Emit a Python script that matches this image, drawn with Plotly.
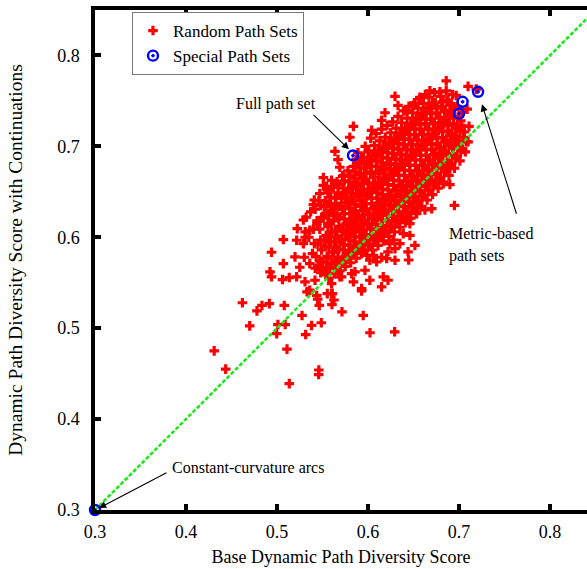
import plotly.graph_objects as go

# Random path sets: dense core of the cloud, listed column by column (x, y)
core_sets = [
    (0.530, 0.578), (0.531, 0.606), (0.529, 0.619),
    (0.536, 0.571), (0.535, 0.600), (0.537, 0.628),
    (0.542, 0.566), (0.543, 0.579), (0.541, 0.593), (0.544, 0.618), (0.542, 0.631), (0.541, 0.641),
    (0.548, 0.561), (0.547, 0.574), (0.549, 0.586), (0.548, 0.597), (0.547, 0.609), (0.549, 0.622), (0.548, 0.635), (0.547, 0.648),
    (0.554, 0.567), (0.555, 0.579), (0.553, 0.590), (0.554, 0.602), (0.556, 0.615), (0.554, 0.627), (0.553, 0.640), (0.555, 0.652),
    (0.560, 0.571), (0.561, 0.583), (0.559, 0.595), (0.560, 0.606), (0.562, 0.618), (0.560, 0.630), (0.559, 0.644), (0.561, 0.655),
    (0.566, 0.566), (0.567, 0.578), (0.565, 0.589), (0.566, 0.601), (0.568, 0.612), (0.566, 0.624), (0.565, 0.637), (0.567, 0.649), (0.566, 0.661),
    (0.572, 0.574), (0.573, 0.586), (0.571, 0.597), (0.572, 0.608), (0.574, 0.620), (0.572, 0.631), (0.571, 0.643), (0.573, 0.654), (0.572, 0.667),
    (0.578, 0.579), (0.579, 0.591), (0.577, 0.603), (0.578, 0.614), (0.580, 0.626), (0.578, 0.638), (0.577, 0.649), (0.579, 0.661), (0.578, 0.673),
    (0.584, 0.583), (0.585, 0.595), (0.583, 0.606), (0.584, 0.618), (0.586, 0.629), (0.584, 0.641), (0.583, 0.653), (0.585, 0.665), (0.584, 0.678),
    (0.590, 0.588), (0.591, 0.600), (0.589, 0.611), (0.590, 0.623), (0.592, 0.634), (0.590, 0.646), (0.589, 0.657), (0.591, 0.669), (0.590, 0.681), (0.589, 0.693),
    (0.596, 0.586), (0.597, 0.597), (0.595, 0.608), (0.596, 0.619), (0.598, 0.631), (0.596, 0.642), (0.595, 0.653), (0.597, 0.664), (0.596, 0.676), (0.595, 0.688), (0.597, 0.700),
    (0.602, 0.592), (0.603, 0.603), (0.601, 0.615), (0.602, 0.626), (0.604, 0.637), (0.602, 0.649), (0.601, 0.660), (0.603, 0.672), (0.602, 0.684), (0.601, 0.695), (0.603, 0.709),
    (0.608, 0.597), (0.609, 0.609), (0.607, 0.620), (0.608, 0.632), (0.610, 0.643), (0.608, 0.655), (0.607, 0.666), (0.609, 0.678), (0.608, 0.690), (0.607, 0.701), (0.609, 0.714),
    (0.614, 0.601), (0.615, 0.613), (0.613, 0.624), (0.614, 0.636), (0.616, 0.647), (0.614, 0.659), (0.613, 0.670), (0.615, 0.682), (0.614, 0.694), (0.613, 0.706), (0.615, 0.719),
    (0.620, 0.606), (0.621, 0.618), (0.619, 0.629), (0.620, 0.641), (0.622, 0.652), (0.620, 0.663), (0.619, 0.675), (0.621, 0.687), (0.620, 0.698), (0.619, 0.710), (0.621, 0.723),
    (0.626, 0.612), (0.627, 0.623), (0.625, 0.635), (0.626, 0.646), (0.628, 0.657), (0.626, 0.669), (0.625, 0.680), (0.627, 0.692), (0.626, 0.703), (0.625, 0.715), (0.627, 0.727),
    (0.632, 0.617), (0.633, 0.628), (0.631, 0.640), (0.632, 0.651), (0.634, 0.662), (0.632, 0.674), (0.631, 0.686), (0.633, 0.697), (0.632, 0.708), (0.631, 0.720), (0.633, 0.733),
    (0.638, 0.622), (0.639, 0.634), (0.637, 0.645), (0.638, 0.656), (0.640, 0.668), (0.638, 0.679), (0.637, 0.691), (0.639, 0.702), (0.638, 0.714), (0.637, 0.726), (0.639, 0.739),
    (0.644, 0.627), (0.645, 0.639), (0.643, 0.650), (0.644, 0.662), (0.646, 0.673), (0.644, 0.685), (0.643, 0.696), (0.645, 0.708), (0.644, 0.719), (0.643, 0.731), (0.645, 0.744),
    (0.650, 0.633), (0.651, 0.645), (0.649, 0.656), (0.650, 0.667), (0.652, 0.679), (0.650, 0.690), (0.649, 0.702), (0.651, 0.713), (0.650, 0.725), (0.649, 0.737), (0.651, 0.748),
    (0.656, 0.640), (0.657, 0.651), (0.655, 0.662), (0.656, 0.673), (0.658, 0.685), (0.656, 0.696), (0.655, 0.707), (0.657, 0.719), (0.656, 0.730), (0.655, 0.742), (0.657, 0.752),
    (0.662, 0.646), (0.663, 0.657), (0.661, 0.668), (0.662, 0.679), (0.664, 0.690), (0.662, 0.702), (0.661, 0.713), (0.663, 0.725), (0.662, 0.736), (0.661, 0.747), (0.663, 0.757),
    (0.668, 0.652), (0.669, 0.663), (0.667, 0.674), (0.668, 0.685), (0.670, 0.697), (0.668, 0.708), (0.667, 0.719), (0.669, 0.730), (0.668, 0.742), (0.667, 0.754),
    (0.674, 0.659), (0.675, 0.670), (0.673, 0.681), (0.674, 0.692), (0.676, 0.703), (0.674, 0.714), (0.673, 0.726), (0.675, 0.737), (0.674, 0.748), (0.673, 0.759),
    (0.680, 0.666), (0.681, 0.677), (0.679, 0.688), (0.680, 0.699), (0.682, 0.710), (0.680, 0.721), (0.679, 0.732), (0.681, 0.744), (0.680, 0.755),
    (0.686, 0.673), (0.687, 0.684), (0.685, 0.695), (0.686, 0.706), (0.688, 0.717), (0.686, 0.728), (0.685, 0.740), (0.687, 0.751), (0.686, 0.761),
    (0.692, 0.681), (0.693, 0.692), (0.691, 0.703), (0.692, 0.714), (0.694, 0.725), (0.692, 0.736), (0.691, 0.747), (0.693, 0.757),
    (0.698, 0.689), (0.699, 0.700), (0.697, 0.711), (0.698, 0.722), (0.700, 0.733), (0.698, 0.744),
    (0.704, 0.697), (0.705, 0.710), (0.703, 0.723), (0.704, 0.738),
    (0.710, 0.705), (0.711, 0.722), (0.709, 0.741),
]

# Random path sets between the core columns
core_between = [
    (0.539, 0.582), (0.540, 0.609),
    (0.545, 0.568), (0.545, 0.592), (0.544, 0.615), (0.546, 0.640),
    (0.551, 0.562), (0.550, 0.573), (0.552, 0.596), (0.551, 0.621), (0.552, 0.634), (0.551, 0.657),
    (0.557, 0.555), (0.558, 0.566), (0.556, 0.577), (0.557, 0.589), (0.558, 0.600), (0.556, 0.612), (0.557, 0.624), (0.558, 0.637), (0.556, 0.649),
    (0.563, 0.560), (0.564, 0.572), (0.562, 0.584), (0.563, 0.595), (0.564, 0.607), (0.562, 0.619), (0.563, 0.631), (0.564, 0.643), (0.562, 0.655),
    (0.569, 0.563), (0.570, 0.575), (0.568, 0.587), (0.569, 0.598), (0.570, 0.610), (0.568, 0.622), (0.569, 0.634), (0.570, 0.646), (0.568, 0.658),
    (0.575, 0.568), (0.576, 0.580), (0.574, 0.592), (0.575, 0.603), (0.576, 0.615), (0.574, 0.626), (0.575, 0.638), (0.576, 0.650), (0.574, 0.662),
    (0.581, 0.572), (0.582, 0.585), (0.580, 0.597), (0.581, 0.608), (0.582, 0.620), (0.580, 0.632), (0.581, 0.644), (0.582, 0.656), (0.580, 0.668),
    (0.587, 0.577), (0.588, 0.589), (0.586, 0.601), (0.587, 0.613), (0.588, 0.624), (0.586, 0.636), (0.587, 0.648), (0.588, 0.660), (0.586, 0.672), (0.587, 0.686),
    (0.593, 0.582), (0.594, 0.594), (0.592, 0.606), (0.593, 0.617), (0.594, 0.629), (0.592, 0.640), (0.593, 0.652), (0.594, 0.664), (0.592, 0.676), (0.593, 0.688),
    (0.599, 0.580), (0.600, 0.592), (0.598, 0.603), (0.599, 0.614), (0.600, 0.625), (0.598, 0.637), (0.599, 0.648), (0.600, 0.659), (0.598, 0.670), (0.599, 0.682), (0.600, 0.694),
    (0.605, 0.586), (0.606, 0.598), (0.604, 0.609), (0.605, 0.621), (0.606, 0.632), (0.604, 0.643), (0.605, 0.655), (0.606, 0.666), (0.604, 0.678), (0.605, 0.690),
    (0.611, 0.591), (0.612, 0.603), (0.610, 0.614), (0.611, 0.626), (0.612, 0.638), (0.610, 0.649), (0.611, 0.661), (0.612, 0.672), (0.610, 0.684), (0.611, 0.696),
    (0.617, 0.596), (0.618, 0.607), (0.616, 0.619), (0.617, 0.630), (0.618, 0.642), (0.616, 0.653), (0.617, 0.665), (0.618, 0.676), (0.616, 0.688), (0.617, 0.700),
    (0.623, 0.601), (0.624, 0.612), (0.622, 0.624), (0.623, 0.635), (0.624, 0.646), (0.622, 0.658), (0.623, 0.669), (0.624, 0.681), (0.622, 0.693), (0.623, 0.704),
    (0.629, 0.606), (0.630, 0.618), (0.628, 0.629), (0.629, 0.640), (0.630, 0.652), (0.628, 0.663), (0.629, 0.675), (0.630, 0.686), (0.628, 0.698), (0.629, 0.709),
    (0.635, 0.611), (0.636, 0.623), (0.634, 0.634), (0.635, 0.646), (0.636, 0.657), (0.634, 0.668), (0.635, 0.680), (0.636, 0.691), (0.634, 0.703), (0.635, 0.714),
    (0.641, 0.616), (0.642, 0.628), (0.640, 0.639), (0.641, 0.651), (0.642, 0.662), (0.640, 0.674), (0.641, 0.685), (0.642, 0.697), (0.640, 0.708), (0.641, 0.720),
    (0.647, 0.621), (0.648, 0.633), (0.646, 0.644), (0.647, 0.656), (0.648, 0.667), (0.646, 0.679), (0.647, 0.690), (0.648, 0.702), (0.646, 0.713), (0.647, 0.725),
    (0.653, 0.627), (0.654, 0.639), (0.652, 0.650), (0.653, 0.662), (0.654, 0.673), (0.652, 0.685), (0.653, 0.696), (0.654, 0.707), (0.652, 0.719), (0.653, 0.731),
    (0.659, 0.634), (0.660, 0.645), (0.658, 0.656), (0.659, 0.668), (0.660, 0.679), (0.658, 0.690), (0.659, 0.702), (0.660, 0.713), (0.658, 0.724), (0.659, 0.736),
    (0.665, 0.641), (0.666, 0.652), (0.664, 0.663), (0.665, 0.674), (0.666, 0.685), (0.664, 0.696), (0.665, 0.708), (0.666, 0.719), (0.664, 0.730), (0.665, 0.742),
    (0.671, 0.647), (0.672, 0.658), (0.670, 0.669), (0.671, 0.680), (0.672, 0.691), (0.670, 0.702), (0.671, 0.713), (0.672, 0.725), (0.670, 0.736), (0.671, 0.748),
    (0.677, 0.654), (0.678, 0.665), (0.676, 0.676), (0.677, 0.687), (0.678, 0.698), (0.676, 0.709), (0.677, 0.720), (0.678, 0.731), (0.676, 0.742),
    (0.683, 0.661), (0.684, 0.672), (0.682, 0.683), (0.683, 0.694), (0.684, 0.705), (0.682, 0.716), (0.683, 0.727), (0.684, 0.738), (0.682, 0.749),
    (0.689, 0.668), (0.690, 0.679), (0.688, 0.690), (0.689, 0.701), (0.690, 0.712), (0.688, 0.723), (0.689, 0.734), (0.690, 0.745),
    (0.695, 0.676), (0.696, 0.687), (0.694, 0.698), (0.695, 0.709), (0.696, 0.720), (0.694, 0.731), (0.695, 0.741),
    (0.701, 0.684), (0.702, 0.695), (0.700, 0.706), (0.701, 0.717), (0.702, 0.728),
    (0.707, 0.694), (0.708, 0.705), (0.706, 0.716),
]

# Random path sets scattered around the upper and left edge of the cloud
upper_fringe = [
    (0.5637, 0.6945), (0.567, 0.6854), (0.569, 0.677), (0.551, 0.6656), (0.560, 0.6626),
    (0.5546, 0.656), (0.573, 0.668), (0.580, 0.710), (0.604, 0.7176), (0.584, 0.722),
    (0.615, 0.7286), (0.6187, 0.737), (0.633, 0.745), (0.650, 0.745), (0.6425, 0.7396),
    (0.6297, 0.755), (0.657, 0.754), (0.668, 0.761), (0.679, 0.760), (0.686, 0.772),
    (0.697, 0.756), (0.688, 0.7505), (0.710, 0.766), (0.719, 0.763), (0.540, 0.636),
    (0.532, 0.622), (0.5223, 0.6095), (0.507, 0.5975), (0.494, 0.5835), (0.5216, 0.5967),
    (0.529, 0.593), (0.536, 0.6077), (0.531, 0.600),
]

# Random path sets along the lower edge of the cloud
lower_fringe = [
    (0.4923, 0.562), (0.494, 0.5565), (0.507, 0.571), (0.506, 0.5535), (0.5135, 0.5557),
    (0.5216, 0.5565), (0.5198, 0.5784), (0.525, 0.567), (0.5308, 0.551), (0.5418, 0.5527),
    (0.536, 0.5418), (0.5546, 0.560), (0.560, 0.549), (0.560, 0.538), (0.5656, 0.5747),
    (0.569, 0.5565), (0.5436, 0.536),
    (0.670, 0.6315), (0.6626, 0.630), (0.6535, 0.626), (0.646, 0.615), (0.644, 0.6206),
    (0.6388, 0.604), (0.646, 0.602), (0.6516, 0.591), (0.644, 0.584), (0.635, 0.593),
    (0.628, 0.597), (0.6297, 0.5875), (0.622, 0.584), (0.6205, 0.5766), (0.6297, 0.5747),
    (0.6095, 0.573), (0.602, 0.5747), (0.606, 0.580), (0.615, 0.578), (0.624, 0.593),
    (0.5857, 0.562), (0.582, 0.560), (0.5967, 0.5637), (0.584, 0.551), (0.602, 0.5527),
    (0.6168, 0.5565), (0.622, 0.5527), (0.615, 0.5454), (0.593, 0.5436), (0.571, 0.5565),
    (0.655, 0.6315), (0.6535, 0.6407), (0.648, 0.648), (0.6535, 0.6553), (0.668, 0.659),
    (0.6773, 0.659), (0.690, 0.658), (0.695, 0.635), (0.6447, 0.575), (0.688, 0.679),
    (0.690, 0.6755), (0.681, 0.692), (0.6937, 0.703), (0.6828, 0.659),
]

# Isolated random path sets below the cloud
outlier_sets = [
    (0.462, 0.528), (0.4835, 0.525), (0.4916, 0.527), (0.478, 0.519), (0.508, 0.525),
    (0.470, 0.5025), (0.431, 0.475), (0.4436, 0.455), (0.4997, 0.494), (0.501, 0.504),
    (0.509, 0.504), (0.511, 0.477), (0.5135, 0.439), (0.5275, 0.514), (0.538, 0.503),
    (0.5487, 0.506), (0.5315, 0.493), (0.546, 0.454), (0.5458, 0.449), (0.5447, 0.532),
    (0.5465, 0.525), (0.5604, 0.526), (0.5626, 0.531), (0.5553, 0.538), (0.5608, 0.538),
    (0.5714, 0.518), (0.5948, 0.514), (0.6022, 0.495), (0.6293, 0.496), (0.533, 0.540),
    (0.593, 0.541),
]

# Special path sets: constant-curvature arcs, full path set, metric-based sets
special_x = [0.300, 0.5835, 0.700, 0.704, 0.721]
special_y = [0.300, 0.690, 0.736, 0.749, 0.760]

x_ticks = [0.3, 0.4, 0.5, 0.6, 0.7, 0.8]
y_ticks = [0.3, 0.4, 0.5, 0.6, 0.7, 0.8]
x_range = [0.3, 0.8407]
y_range = [0.3, 0.85]

random_sets = core_sets + core_between + upper_fringe + lower_fringe + outlier_sets
rand_x = [p[0] for p in random_sets]
rand_y = [p[1] for p in random_sets]

FONT = "Liberation Serif, Times New Roman, serif"

fig = go.Figure()

fig.add_trace(go.Scatter(
    x=rand_x, y=rand_y, mode="markers", name="Random Path Sets",
    marker=dict(symbol="cross", size=8, color="#ff0000", line=dict(width=0)),
))

# y = x reference line
fig.add_trace(go.Scatter(
    x=[0.3, 0.85], y=[0.3, 0.85], mode="lines", showlegend=False,
    line=dict(color="#1ee81e", width=2.6, dash="4px,2px"), hoverinfo="skip",
))

fig.add_trace(go.Scatter(
    x=special_x, y=special_y, mode="markers", name="Special Path Sets",
    cliponaxis=False,
    marker=dict(symbol="circle-open-dot", size=10, color="#0000ff", line=dict(width=2.4, color="#0000ff")),
))

arrow_style = dict(showarrow=True, arrowhead=2, arrowsize=1.3, arrowwidth=1.1,
                   arrowcolor="black", axref="x", ayref="y", text="", standoff=0)

# Arrow: full path set
fig.add_annotation(x=0.5791, y=0.6967, ax=0.5385, ay=0.7363, **arrow_style)
# Arrow: metric-based path sets
fig.add_annotation(x=0.7253, y=0.7462, ax=0.7637, ay=0.6242, **arrow_style)
# Arrow: constant-curvature arcs
fig.add_annotation(x=0.3044, y=0.3022, ax=0.3802, ay=0.3418, **arrow_style)

label_font = dict(family=FONT, size=16, color="black")
fig.add_annotation(x=0.4989, y=0.7462, text="Full path set", showarrow=False,
                   xanchor="center", yanchor="middle", font=label_font)
fig.add_annotation(x=0.6868, y=0.6044, text="Metric-based", showarrow=False,
                   xanchor="left", yanchor="middle", font=label_font)
fig.add_annotation(x=0.6868, y=0.5791, text="path sets", showarrow=False,
                   xanchor="left", yanchor="middle", font=label_font)
fig.add_annotation(x=0.3824, y=0.3473, text="Constant-curvature arcs", showarrow=False,
                   xanchor="left", yanchor="middle", font=label_font)

axis_common = dict(
    showline=True, linecolor="black", linewidth=3.5,
    ticks="inside", ticklen=6, tickwidth=3.5, tickcolor="black",
    showgrid=False, zeroline=False, automargin=False,
    tickfont=dict(family=FONT, size=18, color="black"),
)

fig.update_xaxes(
    range=x_range, tickvals=x_ticks, ticktext=[f"{v:.1f}" for v in x_ticks],
    mirror="ticks", ticklabelstandoff=3,
    title=dict(text="Base Dynamic Path Diversity Score",
               font=dict(family=FONT, size=18, color="black"), standoff=10),
    **axis_common,
)
fig.update_yaxes(
    range=y_range, tickvals=y_ticks, ticktext=[f"{v:.1f}" for v in y_ticks],
    mirror=False, ticklabelstandoff=8,
    title=dict(text="Dynamic Path Diversity Score with Continuations",
               font=dict(family=FONT, size=19.5, color="black"), standoff=30),
    **axis_common,
)

fig.update_layout(
    width=587, height=569,
    margin=dict(l=95, r=0, t=10, b=59),
    plot_bgcolor="white", paper_bgcolor="white",
    showlegend=True,
    legend=dict(
        x=0.0752, y=0.996, xanchor="left", yanchor="top",
        bgcolor="white", bordercolor="#777777", borderwidth=1,
        font=dict(family=FONT, size=17, color="black"),
        itemwidth=30, tracegroupgap=0,
    ),
)

fig.write_html("out.html")
